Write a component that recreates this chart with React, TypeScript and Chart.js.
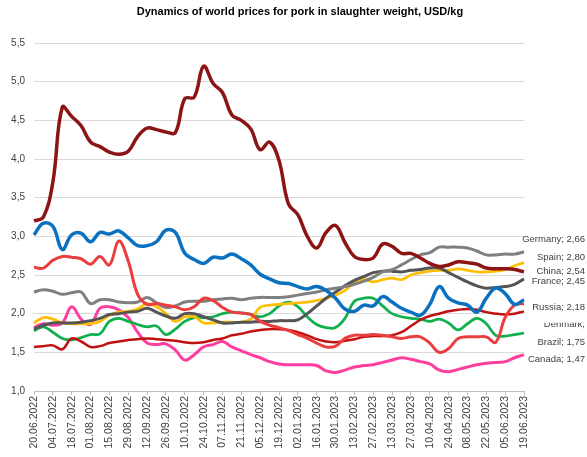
import { useEffect, useRef } from 'react';
import { Chart, registerables } from 'chart.js';

Chart.register(...registerables);

const FONT = "'Liberation Sans', Arial, sans-serif";

const weeks = [
  '20.06.2022', '27.06.2022', '04.07.2022', '11.07.2022', '18.07.2022', '25.07.2022',
  '01.08.2022', '08.08.2022', '15.08.2022', '22.08.2022', '29.08.2022', '05.09.2022',
  '12.09.2022', '19.09.2022', '26.09.2022', '03.10.2022', '10.10.2022', '17.10.2022',
  '24.10.2022', '31.10.2022', '07.11.2022', '14.11.2022', '21.11.2022', '28.11.2022',
  '05.12.2022', '12.12.2022', '19.12.2022', '26.12.2022', '02.01.2023', '09.01.2023',
  '16.01.2023', '23.01.2023', '30.01.2023', '06.02.2023', '13.02.2023', '20.02.2023',
  '27.02.2023', '06.03.2023', '13.03.2023', '20.03.2023', '27.03.2023', '03.04.2023',
  '10.04.2023', '17.04.2023', '24.04.2023', '01.05.2023', '08.05.2023', '15.05.2023',
  '22.05.2023', '29.05.2023', '05.06.2023', '12.06.2023', '19.06.2023',
];

const china = [
  3.20, 3.25, 3.70, 4.67, 4.55, 4.43, 4.22, 4.16, 4.09, 4.06,
  4.10, 4.29, 4.40, 4.38, 4.35, 4.34, 4.78, 4.80, 5.20, 4.98,
  4.86, 4.57, 4.50, 4.39, 4.12, 4.22, 3.98, 3.42, 3.28, 3.00,
  2.85, 3.05, 3.14, 2.92, 2.74, 2.70, 2.72, 2.90, 2.87, 2.78,
  2.78, 2.72, 2.65, 2.61, 2.63, 2.67, 2.66, 2.64, 2.59, 2.58,
  2.58, 2.57, 2.54,
];

const russia = [
  3.02, 3.17, 3.13, 2.83, 3.02, 3.04, 2.93, 3.05, 3.03, 3.07,
  2.98, 2.88, 2.88, 2.93, 3.08, 3.05, 2.78, 2.70, 2.65, 2.73,
  2.72, 2.77, 2.71, 2.63, 2.51, 2.45, 2.40, 2.39, 2.35, 2.32,
  2.35, 2.30, 2.20, 2.06, 2.03, 2.11, 2.10, 2.22, 2.15, 2.07,
  2.02, 1.98, 2.12, 2.35, 2.20, 2.14, 2.11, 2.02, 2.20, 2.33,
  2.26, 2.12, 2.18,
];

const denmark = [
  2.60, 2.59, 2.69, 2.74, 2.73, 2.71, 2.64, 2.74, 2.63, 2.94,
  2.68, 2.25, 2.12, 2.13, 2.11, 2.09, 2.05, 2.09, 2.20, 2.17,
  2.08, 2.02, 2.01, 1.99, 1.90, 1.85, 1.82, 1.78, 1.73, 1.68,
  1.62, 1.57, 1.58, 1.68, 1.72, 1.72, 1.73, 1.72, 1.70, 1.68,
  1.70, 1.70, 1.62, 1.50, 1.55, 1.68, 1.70, 1.70, 1.70, 1.63,
  1.95, 2.11, 2.13,
];

const other = [
  1.57, 1.58, 1.59, 1.54, 1.68, 1.64, 1.57, 1.58, 1.62, 1.64,
  1.66, 1.67, 1.68, 1.67, 1.66, 1.65, 1.63, 1.62, 1.63, 1.66,
  1.68, 1.72, 1.74, 1.77, 1.79, 1.80, 1.80, 1.79, 1.76, 1.72,
  1.67, 1.64, 1.63, 1.65, 1.67, 1.70, 1.71, 1.71, 1.72, 1.76,
  1.84, 1.92, 1.97, 2.00, 2.03, 2.05, 2.06, 2.05, 2.02, 2.00,
  1.99, 2.00, 2.03,
];

const germany = [
  2.28, 2.31, 2.29, 2.25, 2.27, 2.28, 2.13, 2.18, 2.18, 2.15,
  2.14, 2.15, 2.21, 2.14, 2.08, 2.10, 2.15, 2.16, 2.16, 2.18,
  2.19, 2.20, 2.18, 2.20, 2.21, 2.21, 2.21, 2.22, 2.24, 2.26,
  2.28, 2.31, 2.33, 2.35, 2.38, 2.42, 2.47, 2.54, 2.57, 2.63,
  2.70, 2.76, 2.79, 2.86, 2.86, 2.86, 2.85, 2.81, 2.76, 2.76,
  2.77, 2.77, 2.80,
];

const france = [
  1.80, 1.85, 1.88, 1.88, 1.88, 1.89, 1.91, 1.94, 1.99, 2.00,
  2.02, 2.03, 2.07, 2.02, 1.97, 1.94, 2.00, 2.00, 1.96, 1.92,
  1.88, 1.88, 1.89, 1.89, 1.90, 1.90, 1.91, 1.91, 1.92, 2.00,
  2.10, 2.20, 2.28, 2.36, 2.43, 2.48, 2.53, 2.55, 2.55, 2.54,
  2.56, 2.57, 2.59, 2.59, 2.53, 2.47, 2.41, 2.36, 2.33, 2.34,
  2.35, 2.38, 2.45,
];

const spain = [
  1.88, 1.95, 1.93, 1.88, 1.87, 1.87, 1.87, 1.90, 1.98, 2.02,
  2.03, 2.06, 2.13, 2.09, 2.00, 1.90, 1.96, 1.96, 1.88, 1.88,
  1.89, 1.89, 1.89, 1.93, 2.08, 2.11, 2.12, 2.13, 2.14, 2.15,
  2.17, 2.20, 2.24, 2.30, 2.40, 2.44, 2.41, 2.44, 2.46, 2.44,
  2.50, 2.53, 2.55, 2.56, 2.56, 2.58, 2.56, 2.54, 2.54, 2.55,
  2.57, 2.62, 2.66,
];

const brazil = [
  1.78, 1.83, 1.76, 1.68, 1.66, 1.69, 1.73, 1.74, 1.90, 1.94,
  1.90, 1.86, 1.83, 1.84, 1.73, 1.80, 1.90, 1.95, 1.95, 1.96,
  2.00, 2.02, 2.01, 1.99, 1.96, 2.00, 2.10, 2.15, 2.09, 1.96,
  1.86, 1.82, 1.82, 1.94, 2.16, 2.20, 2.20, 2.10, 2.00, 1.96,
  1.94, 1.93, 1.90, 1.93, 1.88, 1.79, 1.87, 1.94, 1.87, 1.72,
  1.71, 1.73, 1.75,
];

const canada = [
  1.82, 1.87, 1.85, 1.88, 2.09, 1.93, 1.86, 2.07, 2.09, 2.05,
  1.95, 1.76, 1.62, 1.60, 1.61, 1.53, 1.40, 1.47, 1.57, 1.60,
  1.64, 1.57, 1.52, 1.47, 1.43, 1.38, 1.35, 1.34, 1.34, 1.34,
  1.33, 1.26, 1.24, 1.27, 1.31, 1.33, 1.34, 1.37, 1.40, 1.43,
  1.41, 1.38, 1.35, 1.27, 1.25, 1.28, 1.31, 1.34, 1.36, 1.37,
  1.38, 1.43, 1.47,
];

const seriesNames = ['China', 'Russia', 'Denmark', 'Other', 'Germany', 'France', 'Spain', 'Brazil', 'Canada'];
const seriesData = [china, russia, denmark, other, germany, france, spain, brazil, canada];
const seriesColors = ['#8c1414', '#0a70c0', '#ea3e3e', '#c01010', '#7f7f7f', '#555555', '#ffbf00', '#10b04c', '#ff3d9e'];
const seriesWidths = [3.5, 3.5, 3, 2.5, 3, 3, 2.75, 2.75, 3];

const endLabels = [
  { ds: 4, text: 'Germany; 2,66', dy: -12, bg: false },
  { ds: 6, text: 'Spain; 2,80', dy: -5, bg: false },
  { ds: 0, text: 'China; 2,54', dy: -1, bg: false },
  { ds: 5, text: 'France; 2,45', dy: 3, bg: false },
  { ds: 2, text: 'Denmark;', dy: 21, bg: false },
  { ds: 1, text: 'Russia; 2,18', dy: 8, bg: true },
  { ds: 7, text: 'Brazil; 1,75', dy: 9, bg: false },
  { ds: 8, text: 'Canada; 1,47', dy: 5, bg: false },
];

const titleText = 'Dynamics of world prices for pork in slaughter weight, USD/kg';

const titlePlugin = {
  id: 'customTitle',
  afterDraw(chart: any) {
    const ctx = chart.ctx;
    ctx.save();
    ctx.font = `bold 11px ${FONT}`;
    ctx.fillStyle = '#000000';
    ctx.textAlign = 'center';
    ctx.textBaseline = 'middle';
    ctx.fillText(titleText, 300, 12);
    ctx.restore();
  },
};

const endLabelPlugin = {
  id: 'endLabels',
  afterDatasetsDraw(chart: any) {
    const ctx = chart.ctx;
    ctx.save();
    ctx.font = `9.5px ${FONT}`;
    ctx.textAlign = 'right';
    ctx.textBaseline = 'middle';
    for (const l of endLabels) {
      const meta = chart.getDatasetMeta(l.ds);
      const pt = meta.data[meta.data.length - 1];
      const y = pt.y + l.dy;
      const x = chart.width - 2;
      if (l.bg) {
        const w = ctx.measureText(l.text).width;
        ctx.fillStyle = '#ffffff';
        ctx.fillRect(x - w - 4, y - 6, w + 6, 21);
      }
      ctx.fillStyle = '#404040';
      ctx.fillText(l.text, x, y);
    }
    ctx.restore();
  },
};

export default function App() {
  const ref = useRef<HTMLCanvasElement | null>(null);

  useEffect(() => {
    if (!ref.current) return;
    const chart = new Chart(ref.current, {
      type: 'line',
      data: {
        labels: weeks,
        datasets: seriesNames.map((name, i) => ({
          label: name,
          data: seriesData[i],
          borderColor: seriesColors[i],
          backgroundColor: seriesColors[i],
          borderWidth: seriesWidths[i],
          pointRadius: 0,
          tension: 0.4,
          fill: false,
        })),
      },
      options: {
        responsive: false,
        animation: false,
        layout: { padding: { top: 43, right: 63, left: 0, bottom: 0 } },
        plugins: {
          legend: { display: false },
          title: { display: false },
          tooltip: { enabled: false },
        },
        scales: {
          x: {
            grid: { display: true, drawOnChartArea: false, drawTicks: true, tickLength: 4, color: '#bfbfbf' },
            border: { display: true, color: '#bfbfbf' },
            ticks: {
              autoSkip: false,
              maxRotation: 90,
              minRotation: 90,
              padding: 1,
              color: '#404040',
              font: { size: 10.5, family: FONT },
              callback: (_v: any, i: number) => (i % 2 === 0 ? weeks[i] : null),
            },
            afterFit: (s: any) => { s.height = 66; },
          },
          y: {
            min: 1,
            max: 5.5,
            grid: { color: '#d9d9d9', drawTicks: false },
            border: { display: false },
            ticks: {
              stepSize: 0.5,
              padding: 9,
              color: '#404040',
              font: { size: 10, family: FONT },
              callback: (v: any) => Number(v).toFixed(1).replace('.', ','),
            },
            afterFit: (s: any) => { s.width = 34; },
          },
        },
      },
      plugins: [titlePlugin, endLabelPlugin],
    });
    return () => chart.destroy();
  }, []);

  return (
    <div style={{ position: 'fixed', left: 0, top: 0, width: 587, height: 457, background: '#fff' }}>
      <canvas ref={ref} width={587} height={457} />
    </div>
  );
}
